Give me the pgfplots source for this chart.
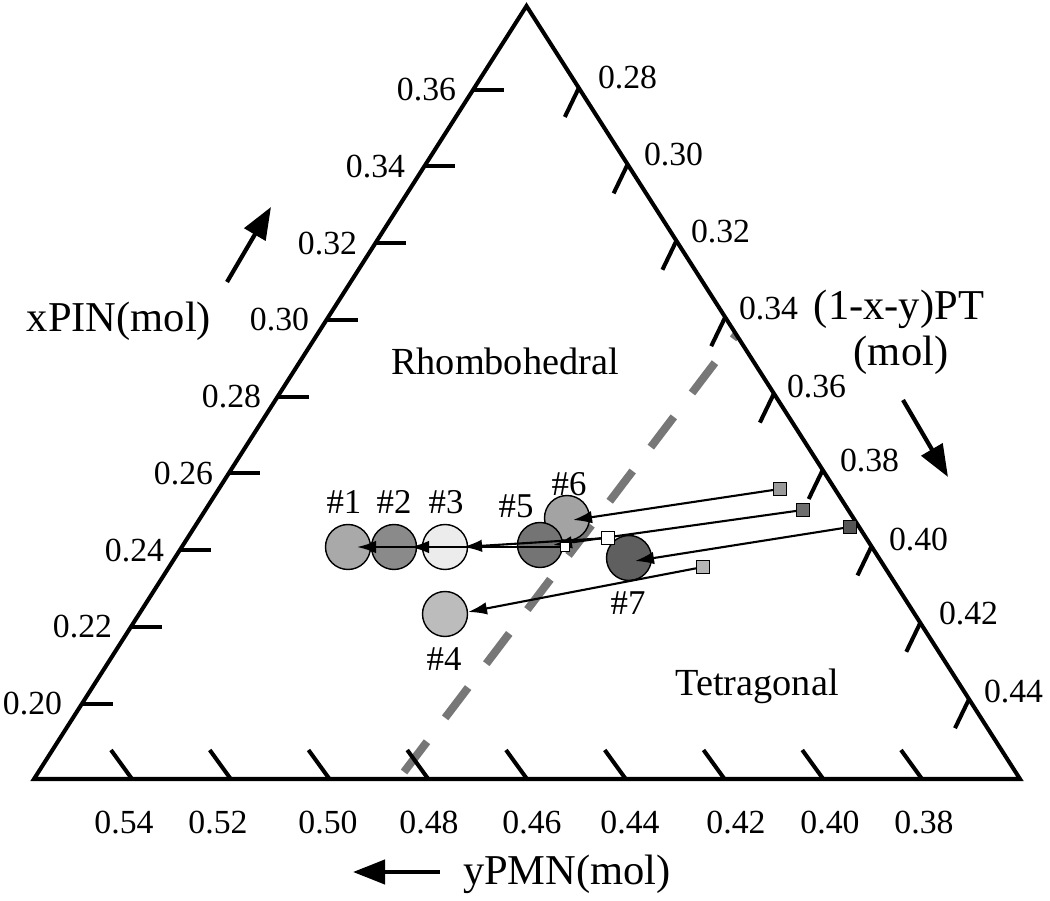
\documentclass[border=0pt]{standalone}
\usepackage{pgfplots}
\pgfplotsset{compat=1.18}
\usepackage{fontspec}
\setmainfont{Liberation Serif}
\usetikzlibrary{arrows.meta}
\definecolor{dashgray}{HTML}{777777}
\definecolor{edgegray}{HTML}{404040}
\definecolor{cA}{HTML}{A9A9A9}
\definecolor{cB}{HTML}{8A8A8A}
\definecolor{cC}{HTML}{ECECEC}
\definecolor{cD}{HTML}{BCBCBC}
\definecolor{cE}{HTML}{747474}
\definecolor{cF}{HTML}{A3A3A3}
\definecolor{cG}{HTML}{5F5F5F}
\definecolor{sA}{HTML}{9A9A9A}
\definecolor{sB}{HTML}{6E6E6E}
\definecolor{sC}{HTML}{555555}
\definecolor{sD}{HTML}{B5B5B5}
\newcommand{\tk}{\fontsize{9.6pt}{11pt}\selectfont}
\newcommand{\lb}{\fontsize{12.1pt}{13pt}\selectfont}
\newcommand{\rg}{\fontsize{10.9pt}{12pt}\selectfont}
\newcommand{\nm}{\fontsize{9.9pt}{11pt}\selectfont}
\begin{document}
\begin{tikzpicture}[every node/.style={inner sep=0pt, outer sep=0pt}]
\begin{axis}[
  scale only axis, width=105mm, height=90.1mm,
  xmin=0, xmax=1050, ymin=0, ymax=901, y dir=reverse,
  hide axis, clip=false, clip marker paths=true,
  circ/.style={only marks, mark=*, mark size=2.25mm, mark options={draw=edgegray, line width=0.5pt}},
  sq/.style={only marks, mark=square*, mark size=0.65mm, mark options={draw=black!80, line width=0.45pt}},
  thin arrow/.style={black, line width=0.6pt, -{Latex[length=1.9mm,width=1.25mm]}},
  big arrow/.style={black, line width=1.2pt, -{Triangle[length=3.2mm,width=2.4mm]}},
]
\path (axis cs:0,0) rectangle (axis cs:1050,901);

% phase boundary
\addplot[dashgray, line width=0.8mm, dash pattern=on 3.8mm off 3.0mm, line cap=butt]
  coordinates {(404,772) (736,335)};

% triangle
\addplot[black, line width=1.15pt, line join=miter]
  coordinates {(34,779) (1020,779) (526.5,6)} -- cycle;

% left ticks (xPIN)
\addplot[black, line width=1.15pt, empty line=jump] table {
x y
82.0 703.6
113.0 703.6

130.9 626.85
161.9 626.85

179.8 550.1
210.8 550.1

228.7 473.35
259.7 473.35

277.6 396.6
308.6 396.6

326.5 319.85
357.5 319.85

375.4 243.1
406.4 243.1

424.3 166.35
455.3 166.35

473.2 89.6
504.2 89.6
};

% right ticks (PT)
\addplot[black, line width=1.15pt, empty line=jump] table {
x y
578.8 88
564.8 117

627.6 164.4
613.6 193.4

676.4 240.8
662.4 269.8

725.2 317.2
711.2 346.2

773.9 393.6
759.9 422.6

822.7 470
808.7 499

871.5 546.4
857.5 575.4

920.3 622.8
906.3 651.8

969.0 699.2
955.0 728.2
};

% bottom ticks (PMN)
\addplot[black, line width=1.15pt, empty line=jump] table {
x y
132 779
111 750

230.75 779
209.75 750

329.5 779
308.5 750

428.25 779
407.25 750

527 779
506 750

625.75 779
604.75 750

724.5 779
703.5 750

823.25 779
802.25 750

922 779
901 750
};

% tick labels
\node[anchor=east, font=\tk] at (axis cs:62,703.6) {0.20};
\node[anchor=east, font=\tk] at (axis cs:112,626.85) {0.22};
\node[anchor=east, font=\tk] at (axis cs:164,550.1) {0.24};
\node[anchor=east, font=\tk] at (axis cs:213,473.35) {0.26};
\node[anchor=east, font=\tk] at (axis cs:261,396.6) {0.28};
\node[anchor=east, font=\tk] at (axis cs:309,319.85) {0.30};
\node[anchor=east, font=\tk] at (axis cs:357,243.1) {0.32};
\node[anchor=east, font=\tk] at (axis cs:405,166.35) {0.34};
\node[anchor=east, font=\tk] at (axis cs:456,89.6) {0.36};

\node[anchor=west, font=\tk] at (axis cs:598,78) {0.28};
\node[anchor=west, font=\tk] at (axis cs:644,155) {0.30};
\node[anchor=west, font=\tk] at (axis cs:691,232) {0.32};
\node[anchor=west, font=\tk] at (axis cs:739,309) {0.34};
\node[anchor=west, font=\tk] at (axis cs:787,387) {0.36};
\node[anchor=west, font=\tk] at (axis cs:840,461) {0.38};
\node[anchor=west, font=\tk] at (axis cs:889,540) {0.40};
\node[anchor=west, font=\tk] at (axis cs:939,614) {0.42};
\node[anchor=west, font=\tk] at (axis cs:984,692) {0.44};

\node[font=\tk] at (axis cs:124,823) {0.54};
\node[font=\tk] at (axis cs:218,823) {0.52};
\node[font=\tk] at (axis cs:328,823) {0.50};
\node[font=\tk] at (axis cs:429,823) {0.48};
\node[font=\tk] at (axis cs:532,823) {0.46};
\node[font=\tk] at (axis cs:630,823) {0.44};
\node[font=\tk] at (axis cs:736,823) {0.42};
\node[font=\tk] at (axis cs:830,823) {0.40};
\node[font=\tk] at (axis cs:924,823) {0.38};

% axis titles and direction arrows
\node[font=\lb] at (axis cs:119,321) {xPIN(mol)};
\node[font=\lb] at (axis cs:899,309) {(1-x-y)PT};
\node[font=\lb] at (axis cs:901,355) {(mol)};
\node[font=\lb] at (axis cs:567,874) {yPMN(mol)};
\addplot[big arrow] coordinates {(227,282) (271,207)};
\addplot[big arrow] coordinates {(903,400) (948,477)};
\addplot[big arrow] coordinates {(440,872) (353,872)};

% region labels
\node[font=\rg] at (axis cs:505,361) {Rhombohedral};
\node[font=\rg] at (axis cs:757,686) {Tetragonal};

% measured compositions (circles)
\addplot[circ, mark options={fill=cF}] coordinates {(567,518)};
\addplot[circ, mark options={fill=cA}] coordinates {(348,547)};
\addplot[circ, mark options={fill=cB}] coordinates {(394,547)};
\addplot[circ, mark options={fill=cC}] coordinates {(445,547)};
\addplot[circ, mark options={fill=cE}] coordinates {(540,545)};
\addplot[circ, mark options={fill=cG}] coordinates {(629,558)};
\addplot[circ, mark options={fill=cD}] coordinates {(445,614)};

% shifts from nominal to measured
\addplot[thin arrow] coordinates {(780,489) (573,520)};
\addplot[thin arrow] coordinates {(803,510) (553,545)};
\addplot[thin arrow] coordinates {(850,527) (635,561)};
\addplot[thin arrow] coordinates {(703,567) (468,612)};
\addplot[thin arrow] coordinates {(608,538) (463,547)};
\addplot[thin arrow] coordinates {(565,547) (410,547)};
\addplot[thin arrow] coordinates {(565,547) (357,547)};

% nominal compositions (squares)
\addplot[sq, mark options={fill=sA}] coordinates {(780,489)};
\addplot[sq, mark options={fill=sB}] coordinates {(803,510)};
\addplot[sq, mark options={fill=sC}] coordinates {(850,527)};
\addplot[sq, mark options={fill=sD}] coordinates {(703,567)};
\addplot[sq, mark options={fill=white}] coordinates {(608,538)};
\addplot[sq, mark size=0.45mm, mark options={fill=white}] coordinates {(565,547)};

% sample labels
\node[font=\nm] at (axis cs:344,502) {\#1};
\node[font=\nm] at (axis cs:394,502) {\#2};
\node[font=\nm] at (axis cs:446,502) {\#3};
\node[font=\nm] at (axis cs:516,506) {\#5};
\node[font=\nm] at (axis cs:569,484) {\#6};
\node[font=\nm] at (axis cs:628,603) {\#7};
\node[font=\nm] at (axis cs:444,659) {\#4};
\end{axis}
\end{tikzpicture}
\end{document}
